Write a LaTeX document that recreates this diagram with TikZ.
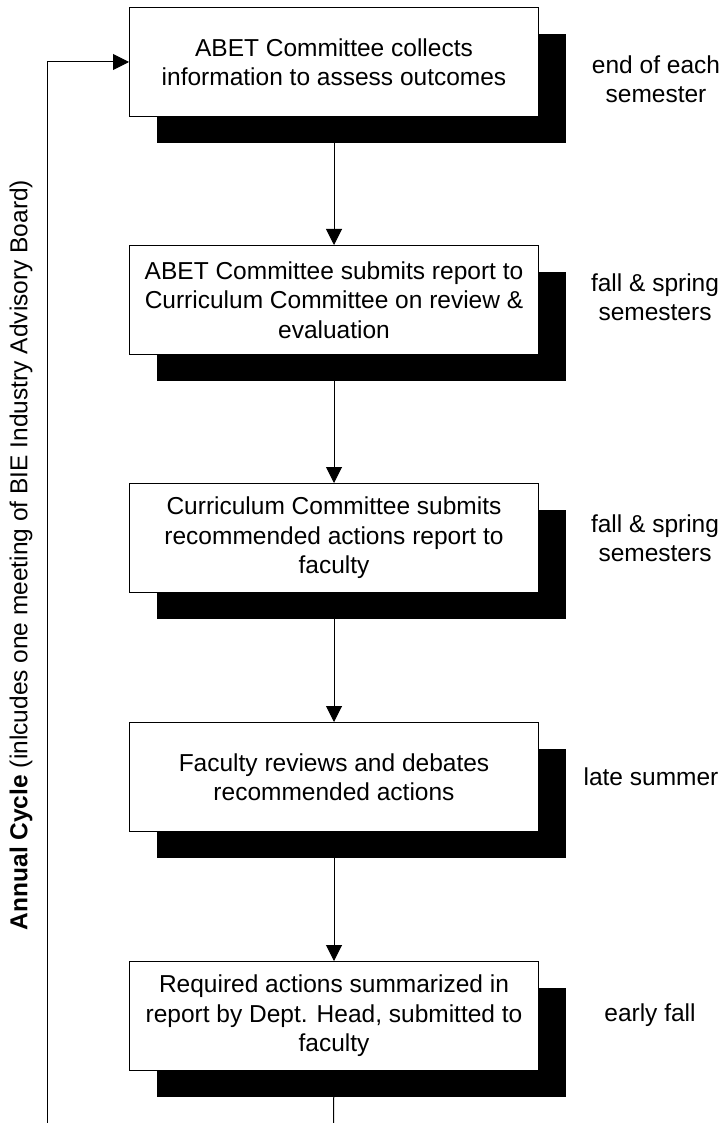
\documentclass[tikz,border=0pt]{standalone}
\usepackage{fontspec}
\setmainfont{Liberation Sans}
\usetikzlibrary{arrows.meta}
\begin{document}
\begin{tikzpicture}[x=1pt,y=-1pt,
  stepbox/.style={draw=black, line width=1pt, fill=white, minimum width=409pt, minimum height=109pt, inner sep=0pt, align=center, font=\fontsize{24.5}{29.5}\selectfont, anchor=north west},
  shadowbox/.style={fill=black, minimum width=409pt, minimum height=109pt, inner sep=0pt, anchor=north west},
  when/.style={align=center, font=\fontsize{24.5}{29}\selectfont},
  conn/.style={line width=1pt, -{Triangle[length=16pt,width=16pt]}},
  plain/.style={line width=1pt},
]
\useasboundingbox (0,0) rectangle (721,1123);
% shadows
\node[shadowbox] (s1) at (157,34) {};
\node[shadowbox] (s2) at (157,272) {};
\node[shadowbox] (s3) at (157,510) {};
\node[shadowbox] (s4) at (157,749) {};
\node[shadowbox] (s5) at (157,988) {};
% boxes
\node[stepbox] (b1) at (129,7) {ABET Committee collects\\information to assess outcomes};
\node[stepbox] (b2) at (129,245) {ABET Committee submits report to\\Curriculum Committee on review \&\\evaluation};
\node[stepbox] (b3) at (129,483) {Curriculum Committee submits\\recommended actions report to\\faculty};
\node[stepbox] (b4) at (129,722) {Faculty reviews and debates\\recommended actions};
\node[stepbox] (b5) at (129,961) {Required actions summarized in\\report by Dept. Head, submitted to\\faculty};
% timing labels
\node[when] (t1) at (656,79) {end of each\\semester};
\node[when] (t2) at (655,297) {fall \& spring\\semesters};
\node[when] (t3) at (655,538) {fall \& spring\\semesters};
\node[when] (t4) at (651,777) {late summer};
\node[when] (t5) at (650,1015) {early fall};
% connectors
\draw[conn] (b1.south) -- (b2.north);
\draw[conn] (b2.south) -- (b3.north);
\draw[conn] (b3.south) -- (b4.north);
\draw[conn] (b4.south) -- (b5.north);
\coordinate (bend) at (333.5,1123);
\draw[plain] (b5.south) -- (bend);
\coordinate (lstart) at (47,1123);
\draw[conn] (lstart) -- (lstart |- b1.west) -- (b1.west);
% cycle label
\node[rotate=90, font=\fontsize{24.5}{29}\selectfont, inner sep=0pt] (cyc) at (21,555) {\textbf{Annual Cycle} (inlcudes one meeting of BIE Industry Advisory Board)};
\end{tikzpicture}
\end{document}
